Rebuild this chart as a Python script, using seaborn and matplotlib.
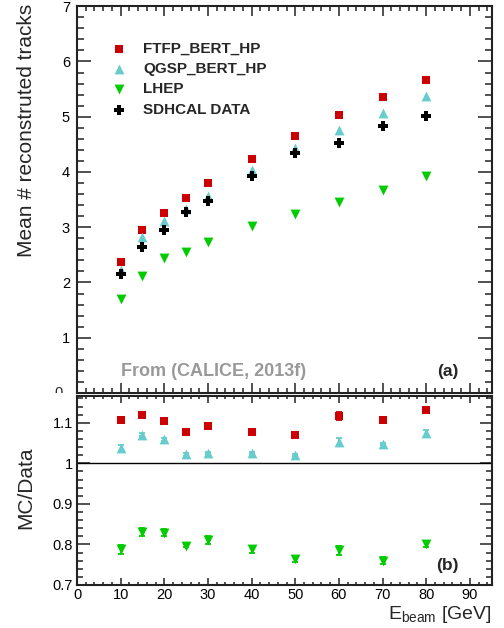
import numpy as np
import pandas as pd
import matplotlib
matplotlib.use("Agg")
import matplotlib.pyplot as plt
import seaborn as sns
from matplotlib.ticker import MultipleLocator, FixedLocator, FixedFormatter, NullFormatter
from matplotlib.transforms import Bbox, TransformedBbox, blended_transform_factory

# ---------------- data ----------------
energy = [10, 15, 20, 25, 30, 40, 50, 60, 70, 80]

ftfp = [2.37, 2.95, 3.26, 3.53, 3.80, 4.24, 4.66, 5.04, 5.35, 5.67]
qgsp = [2.23, 2.82, 3.12, 3.33, 3.56, 4.03, 4.43, 4.76, 5.07, 5.38]
lhep = [1.70, 2.12, 2.44, 2.55, 2.74, 3.02, 3.24, 3.46, 3.67, 3.93]
data = [2.15, 2.64, 2.95, 3.27, 3.48, 3.93, 4.34, 4.52, 4.84, 5.01]

ratio_ftfp = [1.107, 1.119, 1.104, 1.078, 1.092, 1.078, 1.071, 1.117, 1.107, 1.131]
ratio_qgsp = [1.037, 1.071, 1.059, 1.022, 1.026, 1.025, 1.020, 1.053, 1.048, 1.074]
ratio_lhep = [0.788, 0.830, 0.829, 0.797, 0.811, 0.788, 0.764, 0.786, 0.760, 0.801]

err_ftfp = [0.008, 0.006, 0.003, 0.002, 0.005, 0.007, 0.006, 0.010, 0.008, 0.008]
err_qgsp = [0.008, 0.003, 0.003, 0.003, 0.003, 0.003, 0.003, 0.009, 0.003, 0.008]
err_lhep = [0.011, 0.010, 0.008, 0.003, 0.010, 0.008, 0.008, 0.011, 0.008, 0.008]

top_ticks = [0, 1, 2, 3, 4, 5, 6, 7]
top_tick_labels = ["", "1", "2", "3", "4", "5", "6", "7"]
ratio_ticks = [0.7, 0.8, 0.9, 1.0, 1.1]
ratio_tick_labels = ["0.7", "0.8", "0.9", "1", "1.1"]
x_ticks = [0, 10, 20, 30, 40, 50, 60, 70, 80, 90]

names = ["FTFP_BERT_HP", "QGSP_BERT_HP", "LHEP", "SDHCAL DATA"]
colors = {"FTFP_BERT_HP": "#cc0000", "QGSP_BERT_HP": "#66cccc",
          "LHEP": "#00cc00", "SDHCAL DATA": "#000000"}
markers = {"FTFP_BERT_HP": "s", "QGSP_BERT_HP": "^",
           "LHEP": "v", "SDHCAL DATA": "P"}
sizes = {"FTFP_BERT_HP": 38, "QGSP_BERT_HP": 50, "LHEP": 50, "SDHCAL DATA": 42}

top_df = pd.concat([
    pd.DataFrame({"E": energy, "val": v, "series": n})
    for n, v in zip(names, [ftfp, qgsp, lhep, data])
], ignore_index=True)

ratio_names = names[:3]
ratio_vals = [ratio_ftfp, ratio_qgsp, ratio_lhep]
ratio_errs = [err_ftfp, err_qgsp, err_lhep]
bot_df = pd.concat([
    pd.DataFrame({"E": energy, "val": v, "err": e, "series": n})
    for n, v, e in zip(ratio_names, ratio_vals, ratio_errs)
], ignore_index=True)

# ---------------- style ----------------
sns.set_theme(style="ticks")
plt.rcParams['font.family'] = ['Liberation Sans', 'DejaVu Sans']
plt.rcParams['mathtext.fontset'] = 'custom'
plt.rcParams['mathtext.rm'] = 'Liberation Sans'
plt.rcParams['mathtext.it'] = 'Liberation Sans:italic'
plt.rcParams['axes.linewidth'] = 1.5

fig = plt.figure(figsize=(5.04, 6.28), dpi=100)
ax1 = fig.add_axes([0.1528, 0.3742, 0.8228, 0.6159])
ax2 = fig.add_axes([0.1528, 0.0685, 0.8228, 0.3009])

for n in names:
    sub = top_df[top_df.series == n]
    sns.scatterplot(data=sub, x="E", y="val", ax=ax1, color=colors[n],
                    marker=markers[n], s=sizes[n], linewidth=0, label=n,
                    zorder=3)

for n, v, e in zip(ratio_names, ratio_vals, ratio_errs):
    ax2.errorbar(energy, v, yerr=e, fmt='none', ecolor=colors[n],
                 elinewidth=1.3, capsize=2, capthick=1.3, zorder=2)
    sub = bot_df[bot_df.series == n]
    sns.scatterplot(data=sub, x="E", y="val", ax=ax2, color=colors[n],
                    marker=markers[n], s=sizes[n], linewidth=0, legend=False,
                    zorder=3)
ax2.axhline(1.0, color="black", lw=1.0, zorder=1)

# ---------------- axes ----------------
for ax in (ax1, ax2):
    ax.set_xlim(0, 95)
    ax.xaxis.set_major_locator(FixedLocator(x_ticks))
    ax.xaxis.set_minor_locator(MultipleLocator(2))
    ax.tick_params(which='both', direction='in', top=True, right=True,
                   width=1.1, colors='#222222', labelcolor='black', labelsize=10.5)
    ax.set_xlabel("")
    ax.set_ylabel("")
    for s in ax.spines.values():
        s.set_color('#222222')

ax1.set_ylim(0, 7)
ax1.yaxis.set_major_locator(FixedLocator(top_ticks))
ax1.yaxis.set_major_formatter(FixedFormatter(top_tick_labels))
ax1.yaxis.set_minor_locator(MultipleLocator(0.2))
ax1.xaxis.set_major_formatter(NullFormatter())
ax1.tick_params(axis='y', which='major', length=10, pad=5)
ax1.tick_params(axis='y', which='minor', length=5)
ax1.tick_params(axis='x', which='major', length=7)
ax1.tick_params(axis='x', which='minor', length=3.5)

# clipped "0" label at bottom of top panel
zero = ax1.text(-0.035, 0, "0", transform=blended_transform_factory(ax1.transAxes, ax1.transData),
                ha='right', va='center', fontsize=10.5)
zero.set_clip_box(TransformedBbox(Bbox([[0, 0.3742], [1, 1]]), fig.transFigure))
zero.set_clip_on(True)

ax2.set_ylim(0.7, 1.166)
ax2.yaxis.set_major_locator(FixedLocator(ratio_ticks))
ax2.yaxis.set_major_formatter(FixedFormatter(ratio_tick_labels))
ax2.yaxis.set_minor_locator(MultipleLocator(0.02))
ax2.tick_params(axis='y', which='major', length=9, pad=3)
ax2.tick_params(axis='y', which='minor', length=4.5)
ax2.tick_params(axis='x', which='major', length=5, pad=2)
ax2.tick_params(axis='x', which='minor', length=2.5)
ax2.xaxis.set_major_formatter(FixedFormatter([str(v) for v in x_ticks]))

# ---------------- legend ----------------
sns.move_legend(ax1, "upper left", bbox_to_anchor=(0.032, 0.944), frameon=False,
                title=None, handletextpad=0.55, labelspacing=0.42,
                prop={'weight': 'bold', 'size': 11})

# ---------------- text ----------------
fig.text(0.052, 1 - 130 / 628, "Mean # reconstruted tracks", rotation=90, ha='center',
         va='center', fontsize=15)
fig.text(0.052, 1 - 488 / 628, "MC/Data", rotation=90, ha='center', va='center', fontsize=15)
fig.text(491.5 / 504, 1 - 619 / 628, r"E$_{\mathrm{beam}}$ [GeV]", ha='right',
         va='baseline', fontsize=14)

ax1.text(0.105, 0.055, "From (CALICE, 2013f)", transform=ax1.transAxes,
         color='#999999', fontweight='bold', fontsize=13, ha='left', va='center')
ax1.text(0.893, 0.055, "(a)", transform=ax1.transAxes, fontweight='bold',
         fontsize=12.5, ha='center', va='center')
ax2.text(0.893, 0.105, "(b)", transform=ax2.transAxes, fontweight='bold',
         fontsize=12.5, ha='center', va='center')

fig.savefig("out.png", dpi=100)
